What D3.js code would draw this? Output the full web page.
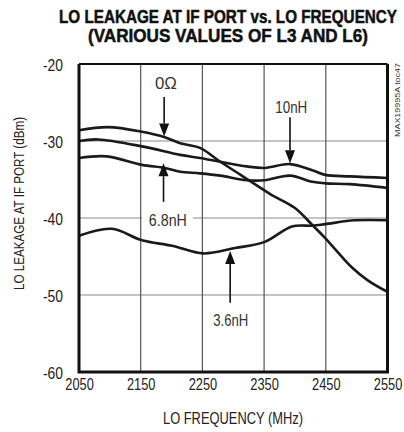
<!DOCTYPE html>
<html><head><meta charset="utf-8">
<script src="https://cdn.jsdelivr.net/npm/d3@7"></script>
<style>html,body{margin:0;padding:0;background:#fff;}</style>
</head><body>
<script>
// ---- data ----
const xTicks = [2050, 2150, 2250, 2350, 2450, 2550];
const yTicks = [-20, -30, -40, -50, -60];
const freq0 = [2050, 2097, 2152, 2189, 2214, 2246, 2279, 2312, 2360, 2400, 2428, 2449, 2492, 2518, 2550];
const ohm0  = [-28.6, -28.2, -28.8, -29.5, -30.3, -30.9, -32.7, -34.4, -36.9, -38.7, -40.9, -42.6, -46.4, -48.1, -49.6];
const freq10 = [2050, 2081, 2152, 2214, 2246, 2279, 2322, 2351, 2392, 2428, 2449, 2489, 2550];
const nh10   = [-30.0, -29.8, -30.7, -31.8, -32.2, -32.7, -33.3, -33.5, -33.0, -33.8, -34.4, -34.6, -34.8];
const freq68 = [2050, 2095, 2152, 2189, 2214, 2246, 2279, 2322, 2351, 2392, 2428, 2449, 2489, 2550];
const nh68   = [-32.2, -32.0, -33.1, -33.5, -34.0, -34.2, -34.5, -35.1, -35.1, -34.5, -35.3, -35.5, -35.6, -36.1];
const freq36 = [2050, 2103, 2152, 2201, 2251, 2303, 2351, 2395, 2428, 2449, 2497, 2550];
const nh36   = [-42.3, -41.4, -42.9, -43.6, -44.6, -43.9, -43.1, -41.1, -41.0, -40.8, -40.3, -40.3];
const seriesNames = ["0Ω", "10nH", "6.8nH", "3.6nH"];
const titleLines = ["LO LEAKAGE AT IF PORT vs. LO FREQUENCY", "(VARIOUS VALUES OF L3 AND L6)"];
const xTitle = "LO FREQUENCY (MHz)";
const yTitle = "LO LEAKAGE AT IF PORT (dBm)";
const sideNote = "MAX19995A toc47";

// ---- layout ----
const W = 404, H = 432;
const L = 79, R = 387.5, T = 64, B = 372;
const font = "'Liberation Sans', Arial, sans-serif";

const svg = d3.select("body").append("svg").attr("width", W).attr("height", H);
const x = d3.scaleLinear().domain([2050, 2550]).range([L, R]);
const y = d3.scaleLinear().domain([-60, -20]).range([B, T]);

// title
const titleSpec = [{ x: 59, y: 23, w: 338 }, { x: 88, y: 42, w: 280 }];
svg.append("g").selectAll("text").data(titleLines).join("text")
  .attr("x", (d, i) => titleSpec[i].x).attr("y", (d, i) => titleSpec[i].y)
  .attr("textLength", (d, i) => titleSpec[i].w).attr("lengthAdjust", "spacingAndGlyphs")
  .attr("font-family", font).attr("font-weight", "bold").attr("font-size", 18)
  .attr("fill", "#111").attr("stroke", "#111").attr("stroke-width", 0.5)
  .text(d => d);

// grid
svg.append("g").selectAll("line").data(yTicks.slice(1, -1)).join("line")
  .attr("x1", L).attr("x2", R).attr("y1", d => y(d)).attr("y2", d => y(d))
  .attr("stroke", "#8a8a8a").attr("stroke-width", 1.2);
svg.append("g").selectAll("line").data(xTicks.slice(1, -1)).join("line")
  .attr("y1", T).attr("y2", B).attr("x1", d => x(d)).attr("x2", d => x(d))
  .attr("stroke", "#555").attr("stroke-width", 1.2);

// axes (labels only)
const xAxis = svg.append("g").attr("transform", `translate(0,${B})`)
  .call(d3.axisBottom(x).tickValues(xTicks).tickSize(0).tickPadding(0).tickFormat(d3.format("d")));
xAxis.select(".domain").remove();
xAxis.selectAll("text").attr("font-family", font).attr("font-size", 16).attr("fill", "#222")
  .attr("dy", null).attr("y", 17.5).attr("textLength", 28.5).attr("lengthAdjust", "spacingAndGlyphs");

const yAxis = svg.append("g").attr("transform", `translate(${L},0)`)
  .call(d3.axisLeft(y).tickValues(yTicks).tickSize(0).tickPadding(16).tickFormat(d => String(d)));
yAxis.select(".domain").remove();
yAxis.selectAll("text").attr("font-family", font).attr("font-size", 16).attr("fill", "#222")
  .attr("dy", null).attr("y", 6).attr("textLength", 20).attr("lengthAdjust", "spacingAndGlyphs");

svg.append("text").attr("x", 163).attr("y", 423.5)
  .attr("textLength", 140).attr("lengthAdjust", "spacingAndGlyphs")
  .attr("font-family", font).attr("font-size", 16).attr("fill", "#222").text(xTitle);
svg.append("text").attr("transform", "translate(24,290) rotate(-90)")
  .attr("textLength", 173).attr("lengthAdjust", "spacingAndGlyphs")
  .attr("font-family", font).attr("font-size", 15.5).attr("fill", "#222").text(yTitle);
svg.append("text").attr("transform", "translate(400,137) rotate(-90)")
  .attr("textLength", 74).attr("lengthAdjust", "spacingAndGlyphs")
  .attr("font-family", font).attr("font-size", 8).attr("fill", "#333").text(sideNote);

// curves
const line = d3.line().x(d => x(d[0])).y(d => y(d[1])).curve(d3.curveCatmullRom.alpha(0.5));
const series = [
  d3.zip(freq0, ohm0), d3.zip(freq10, nh10), d3.zip(freq68, nh68), d3.zip(freq36, nh36)
];
svg.append("g").selectAll("path").data(series).join("path")
  .attr("d", line).attr("fill", "none").attr("stroke", "#1a1a1a").attr("stroke-width", 2.6)
  .attr("stroke-linejoin", "round");

// frame
svg.append("line").attr("x1", L).attr("x2", R).attr("y1", T).attr("y2", T).attr("stroke", "#111").attr("stroke-width", 2);
svg.append("path").attr("d", `M${L},${T}V${B}H${R}V${T}`).attr("fill", "none").attr("stroke", "#111").attr("stroke-width", 3);

// annotations
const annots = [
  { name: seriesNames[0], lx: 2191, ly: -23.3, w: 22, ax: 2188, t: -24.3, p: -29.4 },
  { name: seriesNames[1], lx: 2394, ly: -26.3, w: 32, ax: 2392, t: -26.9, p: -32.9 },
  { name: seriesNames[2], lx: 2194, ly: -41.0, w: 38, ax: 2187, t: -37.9, p: -32.9 },
  { name: seriesNames[3], lx: 2296, ly: -54.0, w: 35, ax: 2295, t: -51.0, p: -44.3 }
];
// gap in gridline for 6.8nH label
svg.append("rect").attr("x", 142).attr("y", y(-40) - 3).attr("width", 51).attr("height", 6).attr("fill", "#fff");

const ag = svg.append("g");
annots.forEach(a => {
  const ax = x(a.ax), yt = y(a.t), yp = y(a.p);
  const dir = yp > yt ? 1 : -1;
  const head = 13, hw = 5;
  ag.append("line").attr("x1", ax).attr("x2", ax).attr("y1", yt).attr("y2", yp - dir * head)
    .attr("stroke", "#111").attr("stroke-width", 1.6);
  ag.append("path").attr("d", `M${ax},${yp}L${ax - hw},${yp - dir * head}L${ax + hw},${yp - dir * head}Z`).attr("fill", "#111");
  ag.append("text").attr("x", x(a.lx) - a.w / 2).attr("y", y(a.ly))
    .attr("textLength", a.w).attr("lengthAdjust", "spacingAndGlyphs")
    .attr("font-family", font).attr("font-size", 16).attr("fill", "#333").text(a.name);
});
</script>
</body></html>
